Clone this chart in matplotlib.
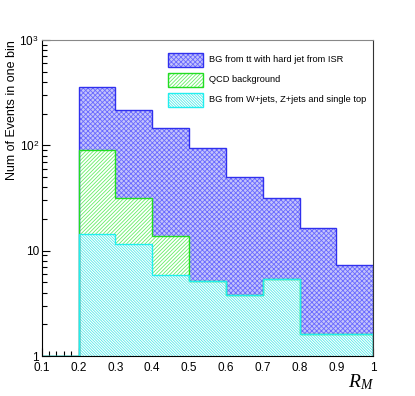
import numpy as np
import matplotlib
matplotlib.use('Agg')
import matplotlib.pyplot as plt
from matplotlib.patches import Rectangle

plt.rcParams['font.family'] = ['Liberation Sans', 'DejaVu Sans']
plt.rcParams['mathtext.fontset'] = 'custom'
plt.rcParams['mathtext.rm'] = 'Liberation Sans'
plt.rcParams['mathtext.it'] = 'Liberation Serif:italic'
plt.rcParams['hatch.linewidth'] = 0.6

# bin edges of R_M and events per bin for each background
edges = [0.1, 0.2, 0.3, 0.4, 0.5, 0.6, 0.7, 0.8, 0.9, 1.0]
wz_top = [0, 14.4, 11.5, 5.9, 5.1, 3.8, 5.35, 1.61, 1.61]
qcd = [0, 76.0, 19.9, 8.0, 0, 0, 0, 0, 0]
ttisr = [0, 266.0, 183.0, 133.0, 90.0, 46.0, 26.0, 14.7, 5.7]
labels = ['BG from tt with hard jet from ISR', 'QCD background',
          'BG from W+jets, Z+jets and single top']
xticks = [0.1, 0.2, 0.3, 0.4, 0.5, 0.6, 0.7, 0.8, 0.9, 1.0]
xticklabels = ['0.1', '0.2', '0.3', '0.4', '0.5', '0.6', '0.7', '0.8', '0.9', '1']
yticks = [1, 10, 100, 1000]
yticklabels = ['1', '10', r'$10^{2}$', r'$10^{3}$']

# stacked heights
s_wz = np.array(wz_top)
s_qcd = s_wz + np.array(qcd)
s_tt = s_qcd + np.array(ttisr)

fig = plt.figure(figsize=(4.15, 3.96), dpi=100)
ax = fig.add_axes([0.1005, 0.101, 0.799, 0.798])
ax.set_yscale('log')
ax.set_xlim(0.1, 1.0)
ax.set_ylim(1, 1000)
ax.set_axisbelow(True)

blue_style = ('#3030ee', '#6a6aff', 'xxxxxxx', '#c4c4fa')
green_style = ('#22dd22', '#66ee66', '/' * 9, 'white')
cyan_style = ('#22eeee', '#55eaea', '\\' * 12, 'white')

for vals, (col, hcol, hat, fc) in [(s_tt, blue_style), (s_qcd, green_style), (s_wz, cyan_style)]:
    v = np.clip(vals, 1, None)
    ax.stairs(v, edges, baseline=1, fill=True, facecolor=fc, edgecolor=hcol,
              hatch=hat, linewidth=0, zorder=2)
    ax.stairs(v, edges, baseline=1, fill=False, color=col, linewidth=1.0, zorder=2.2)

ax.set_xticks(xticks)
ax.set_xticklabels(xticklabels)
ax.set_xticks(np.arange(0.12, 1.0, 0.02), minor=True)
ax.set_yticks(yticks)
ax.set_yticklabels(yticklabels)
ax.tick_params(which='both', direction='in', labelsize=8.5)
ax.tick_params(which='major', length=6, width=0.8)
ax.tick_params(which='minor', length=3.5, width=0.8)
ax.tick_params(axis='x', pad=4)
ax.tick_params(axis='y', pad=2)
ax.spines['top'].set_color('#888888')
ax.spines['right'].set_color('#333333')
ax.spines['left'].set_color('black')

W, H = 415.0, 396.0
fig.text(12 / W, 1 - 40 / H, 'Num of Events in one bin', fontsize=9,
         rotation=90, ha='center', va='top')
fig.text(0.9, 0.035, r'$R_M$', fontsize=14, ha='right', va='center')

# legend drawn as boxes in figure pixels
leg = [(labels[0], blue_style), (labels[1], green_style), (labels[2], cyan_style)]
ytop = [53, 73, 93]
for (lab, (col, hcol, hat, fc)), yt in zip(leg, ytop):
    fig.patches.append(Rectangle((168 / W, 1 - (yt + 14) / H), 35 / W, 14 / H,
                                 transform=fig.transFigure, facecolor=fc,
                                 edgecolor=hcol, hatch=hat, linewidth=0))
    fig.patches.append(Rectangle((168 / W, 1 - (yt + 14) / H), 35 / W, 14 / H,
                                 transform=fig.transFigure, facecolor='none',
                                 edgecolor=col, linewidth=1.0))
    fig.text(209 / W, 1 - (yt + 7) / H, lab, fontsize=6.7, va='center', ha='left')

fig.savefig('out.png', dpi=100)
